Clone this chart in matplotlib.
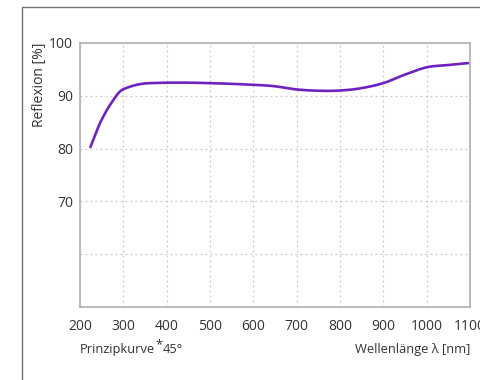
import matplotlib
matplotlib.use("Agg")
import matplotlib.pyplot as plt
from matplotlib.patches import Rectangle
import numpy as np

# Reflexion curve (wavelength in nm, reflexion in %)
wavelength = [224, 235, 246, 262, 277, 292, 311, 338, 362, 430, 500, 569, 645, 700,
              754, 800, 846, 900, 946, 1000, 1046, 1096]
reflexion = [80.3, 82.6, 84.8, 87.3, 89.2, 90.8, 91.6, 92.2, 92.4, 92.5, 92.4, 92.2,
             91.85, 91.2, 90.95, 91.0, 91.4, 92.4, 93.9, 95.4, 95.8, 96.2]

x_ticks = [200, 300, 400, 500, 600, 700, 800, 900, 1000, 1100]
y_ticks = [60, 70, 80, 90, 100]
y_labels = ["", "70", "80", "90", "100"]

plt.rcParams['font.family'] = ['Open Sans', 'DejaVu Sans']
text_color = "#333333"

fig = plt.figure(figsize=(4.81, 3.80), dpi=100)
W, H = 481, 380

# outer frame, running off the right and bottom edges
fig.patches.append(Rectangle((22 / W, -0.1), 1.0, 1 - 7 / H + 0.1,
                             transform=fig.transFigure, fill=False,
                             edgecolor="#707070", linewidth=1.0))

ax = fig.add_axes([80 / W, 1 - 307 / H, 390 / W, 264 / H])

# cubic Hermite curve with centred-difference tangents through the read points
xs = np.array(wavelength, dtype=float)
ys = np.array(reflexion, dtype=float)
t = np.linspace(xs[0], xs[-1], 500)
m = np.empty_like(ys)
m[1:-1] = (ys[2:] - ys[:-2]) / (xs[2:] - xs[:-2])
m[0] = (ys[1] - ys[0]) / (xs[1] - xs[0])
m[-1] = (ys[-1] - ys[-2]) / (xs[-1] - xs[-2])
idx = np.clip(np.searchsorted(xs, t) - 1, 0, len(xs) - 2)
h = xs[idx + 1] - xs[idx]
s = (t - xs[idx]) / h
curve = ((2 * s**3 - 3 * s**2 + 1) * ys[idx] + (s**3 - 2 * s**2 + s) * h * m[idx]
         + (-2 * s**3 + 3 * s**2) * ys[idx + 1] + (s**3 - s**2) * h * m[idx + 1])

ax.plot(t, curve, color="#6f22c0", linewidth=1.9, solid_capstyle="round")

ax.set_xlim(200, 1100)
ax.set_ylim(50, 100)
ax.set_xticks(x_ticks)
ax.set_yticks(y_ticks)
ax.set_yticklabels(y_labels)
ax.grid(True, linestyle=(0, (1.5, 2.5)), color="#c8c8c8", linewidth=0.9)
ax.tick_params(length=0, labelsize=10, colors=text_color)
ax.tick_params(axis="x", pad=9)
ax.tick_params(axis="y", pad=5)
for sp in ax.spines.values():
    sp.set_color("#b0b0b0")
    sp.set_linewidth(1.2)

fig.text(40 / W, 1 - 85 / H, "Reflexion [%]", rotation=90, ha="center", va="center",
         fontsize=10, color=text_color)

t1 = fig.text(80 / W, 1 - 353 / H, "Prinzipkurve", ha="left", va="baseline",
              fontsize=9.3, color=text_color)
ax.annotate("*", xy=(1, 0), xycoords=t1, xytext=(0.5, 3.5), textcoords="offset points",
            ha="left", va="bottom", fontsize=9.3, color=text_color)
ax.annotate("45°", xy=(1, 0), xycoords=t1, xytext=(5.5, 0), textcoords="offset points",
            ha="left", va="bottom", fontsize=9.3, color=text_color)

fig.text(470 / W, 1 - 353 / H, "Wellenlänge λ [nm]", ha="right", va="baseline",
         fontsize=9.3, color=text_color)

fig.savefig("out.png", dpi=100)
